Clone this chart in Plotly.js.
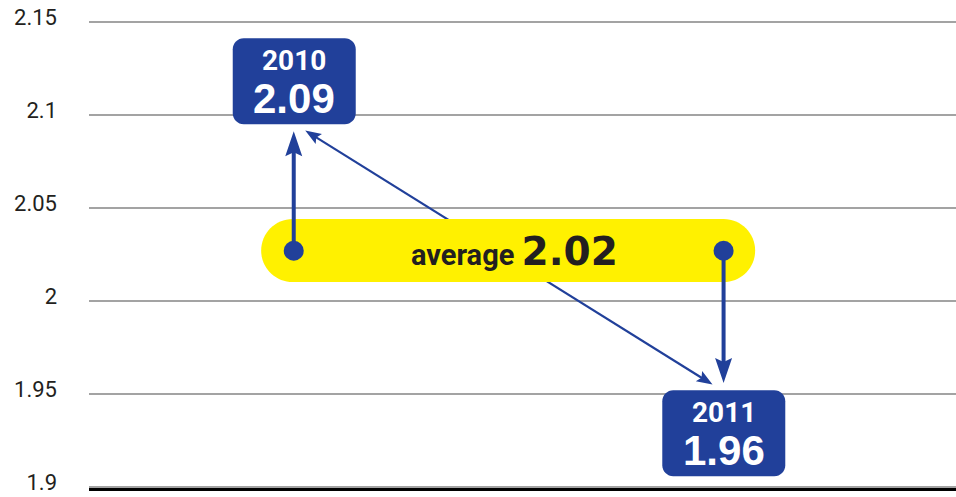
<!DOCTYPE html>
<html>
<head>
<meta charset="utf-8">
<script src="https://cdn.plot.ly/plotly-3.0.1.min.js"></script>
<style>
  html, body { margin: 0; padding: 0; background: #ffffff; }
  #chart { width: 956px; height: 497px; }
</style>
</head>
<body>
<div id="chart"></div>
<script>
// ---- data ----
const years = ['2010', '2011'];
const values = [2.09, 1.96];
const average = 2.02;
const averageLabel = 'average';
const yTickVals = [1.9, 1.95, 2, 2.05, 2.1, 2.15];
const yTickText = ['1.9', '1.95', '2', '2.05', '2.1', '2.15'];

// ---- style ----
const BLUE = '#21409a';
const YELLOW = '#fff100';
const INK = '#231f20';
const NARROW = 'Liberation Sans Narrow, Roboto, Liberation Sans, sans-serif';

const xIdx = years.map((_, i) => i);
const midX = (xIdx[0] + xIdx[xIdx.length - 1]) / 2;
const yRange = [1.8994, 2.1506];

// plot-area geometry (pixels)
const PLOT_H = 467, LABEL_LIFT = 5, TOTAL_H = PLOT_H + LABEL_LIFT;

// helpers: all offsets in pixels relative to an anchor, screen-style (dy positive = down)
function pix(xa, ya, extra) {
  return Object.assign({
    xref: 'x', yref: 'y', xsizemode: 'pixel', ysizemode: 'pixel',
    xanchor: xa, yanchor: ya, layer: 'above'
  }, extra);
}
function roundRectPath(cx, cy, w, h, r) {
  cy = -cy;
  const x0 = cx - w / 2, x1 = cx + w / 2, y0 = cy - h / 2, y1 = cy + h / 2, k = r * 0.4477;
  return `M${x0 + r},${y1} L${x1 - r},${y1} C${x1 - k},${y1} ${x1},${y1 - k} ${x1},${y1 - r} ` +
         `L${x1},${y0 + r} C${x1},${y0 + k} ${x1 - k},${y0} ${x1 - r},${y0} ` +
         `L${x0 + r},${y0} C${x0 + k},${y0} ${x0},${y0 + k} ${x0},${y0 + r} ` +
         `L${x0},${y1 - r} C${x0},${y1 - k} ${x0 + k},${y1} ${x0 + r},${y1} Z`;
}
function headPath(tip, from, len, w, notch) {
  const dx = tip[0] - from[0], dy = tip[1] - from[1];
  const L = Math.hypot(dx, dy), ux = dx / L, uy = dy / L, px = -uy, py = ux;
  const bx = tip[0] - ux * len, by = tip[1] - uy * len;
  const nx = tip[0] - ux * (len - notch), ny = tip[1] - uy * (len - notch);
  const pts = [tip, [bx + px * w / 2, by + py * w / 2], [nx, ny], [bx - px * w / 2, by - py * w / 2]];
  return 'M' + pts.map(p => `${p[0].toFixed(2)},${(-p[1]).toFixed(2)}`).join(' L') + ' Z';
}
function arrow(xa, ya, from, tip, lw, len, w, notch, both) {
  const out = [];
  const dx = tip[0] - from[0], dy = tip[1] - from[1];
  const L = Math.hypot(dx, dy), ux = dx / L, uy = dy / L;
  const end = [tip[0] - ux * (len - notch - 1), tip[1] - uy * (len - notch - 1)];
  const start = both ? [from[0] + ux * (len - notch - 1), from[1] + uy * (len - notch - 1)] : from;
  out.push(pix(xa, ya, { type: 'line', x0: start[0], y0: -start[1], x1: end[0], y1: -end[1],
    line: { color: BLUE, width: lw } }));
  out.push(pix(xa, ya, { type: 'path', path: headPath(tip, from, len, w, notch),
    fillcolor: BLUE, line: { width: 0 } }));
  if (both) out.push(pix(xa, ya, { type: 'path', path: headPath(from, tip, len, w, notch),
    fillcolor: BLUE, line: { width: 0 } }));
  return out;
}

const shapes = [];
// diagonal double arrow (behind the average band)
shapes.push(...arrow(xIdx[0], values[0], [11.5, -3.1], [418.8, 250.9], 2.2, 16, 12, 3, true));
// average band
shapes.push(pix(midX, average, { type: 'path', path: roundRectPath(-0.5, -13.2, 494, 63, 31.5),
  fillcolor: YELLOW, line: { width: 0 } }));
// vertical arrows from the average to each year box
shapes.push(...arrow(xIdx[0], values[0], [0, 117.6], [0, -2.4], 4, 25, 17, 4, false));
shapes.push(...arrow(xIdx[1], values[1], [0, -124.2], [0, 7.6], 4, 25, 17, 4, false));
// dots on the average band
xIdx.forEach(i => {
  shapes.push(pix(i, average, { type: 'circle', x0: -10, x1: 10, y0: 13 - 10, y1: 13 + 10,
    fillcolor: BLUE, line: { width: 0 } }));
});
// year boxes
const boxOffsets = [[0.5, -52.3], [0.2, 57.8]];
xIdx.forEach(i => {
  shapes.push(pix(i, values[i], { type: 'path',
    path: roundRectPath(boxOffsets[i][0], boxOffsets[i][1], 123, 86, 11),
    fillcolor: BLUE, line: { width: 0 } }));
});

const annotations = [];
xIdx.forEach(i => {
  const cy = -boxOffsets[i][1];
  annotations.push({
    x: i, y: values[i], xref: 'x', yref: 'y', showarrow: false,
    xanchor: 'center', yanchor: 'middle', xshift: boxOffsets[i][0], yshift: cy + 20.5,
    text: `<b>${years[i]}</b>`, font: { family: NARROW, size: 28, color: '#ffffff' }
  });
  annotations.push({
    x: i, y: values[i], xref: 'x', yref: 'y', showarrow: false,
    xanchor: 'center', yanchor: 'middle', xshift: boxOffsets[i][0], yshift: cy - 17,
    text: `<b>${values[i].toFixed(2)}</b>`, font: { family: 'Liberation Sans, Arial, sans-serif', size: 42, color: '#ffffff' }
  });
});
annotations.push({
  x: midX, y: average, xref: 'x', yref: 'y', showarrow: false,
  xanchor: 'center', yanchor: 'middle', xshift: 6, yshift: 12,
  text: `<span style="font-family:'Liberation Sans Narrow', Roboto, sans-serif;font-size:29px"><b>${averageLabel}</b></span> ` +
        `<span style="font-family:'DejaVu Sans', sans-serif;font-size:39px"><b>${average.toFixed(2)}</b></span>`,
  font: { family: NARROW, size: 29, color: INK }
});

const data = [
  { x: xIdx, y: values, type: 'scatter', mode: 'markers', xaxis: 'x', yaxis: 'y',
    marker: { opacity: 0 }, hoverinfo: 'skip', showlegend: false },
  { x: xIdx, y: values, type: 'scatter', mode: 'markers', xaxis: 'x', yaxis: 'y2',
    marker: { opacity: 0 }, hoverinfo: 'skip', showlegend: false }
];

const layout = {
  width: 956, height: 497,
  margin: { l: 89, r: 0, t: 21 - LABEL_LIFT, b: 9, pad: 0 },
  paper_bgcolor: '#ffffff', plot_bgcolor: 'rgba(0,0,0,0)',
  showlegend: false,
  xaxis: {
    range: [-0.4763, 1.5407], showgrid: false, zeroline: false, anchor: 'y',
    showticklabels: false, ticks: '', showline: true, linecolor: '#000000', linewidth: 3
  },
  yaxis: {
    domain: [0, PLOT_H / TOTAL_H],
    range: yRange, tickvals: yTickVals,
    showgrid: true, gridcolor: '#a3a3a3', gridwidth: 2, zeroline: false,
    ticks: '', showline: false, showticklabels: false
  },
  // tick labels sit a few pixels above their grid lines, as in the reference
  yaxis2: {
    domain: [LABEL_LIFT / TOTAL_H, 1], anchor: 'x', side: 'left',
    range: yRange, tickvals: yTickVals, ticktext: yTickText,
    showgrid: false, zeroline: false, ticks: '', showline: false,
    ticklabelstandoff: 31, ticklabeloverflow: 'allow',
    tickfont: { family: 'Roboto, Liberation Sans, sans-serif', size: 22, color: INK }
  },
  shapes: shapes,
  annotations: annotations
};

Plotly.newPlot('chart', data, layout, { displayModeBar: false, staticPlot: true });
</script>
</body>
</html>
